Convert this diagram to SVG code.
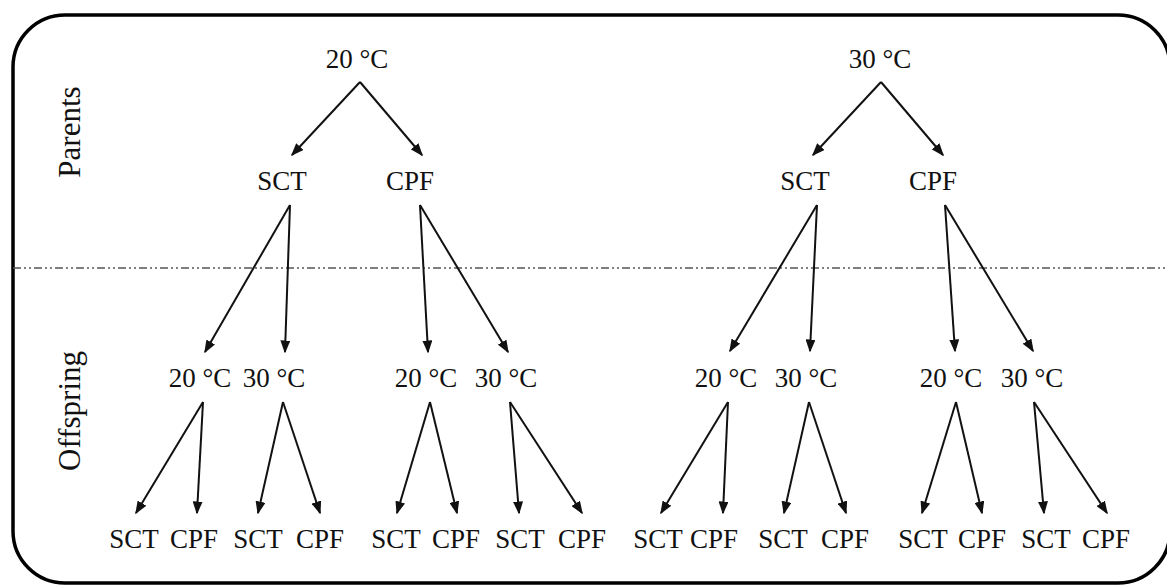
<svg xmlns="http://www.w3.org/2000/svg" width="1167" height="585" viewBox="0 0 1167 585">
<style>
text{fill:#111;text-anchor:middle}
.n{font-size:27px}
.side{font-size:31px}
.c line{stroke:#111;stroke-width:2;marker-end:url(#ah)}
</style>
<defs>
<marker id="ah" markerUnits="userSpaceOnUse" markerWidth="13" markerHeight="10" refX="11.5" refY="5" orient="auto">
<path d="M0,0 L13,5 L0,10 z" fill="#111"/>
</marker>
</defs>
<rect width="1167" height="585" fill="#fff"/>
<rect x="13" y="15" width="1157" height="568" rx="52" ry="52" fill="none" stroke="#000" stroke-width="3.5"/>
<line x1="13" y1="268" x2="1167" y2="268" stroke="#555" stroke-width="1.5" stroke-dasharray="8 3 2 3 2 3"/>
<g font-family="Liberation Serif, Times New Roman, DejaVu Serif, serif">
<text class="side" transform="translate(80,132) rotate(-90)">Parents</text>
<text class="side" transform="translate(80,411) rotate(-90)">Offspring</text>
<g id="p20"><text class="n" x="357" y="68">20 °C</text></g>
<g id="p30"><text class="n" x="880" y="68">30 °C</text></g>
<g id="p20sct"><text class="n" x="282" y="190">SCT</text></g>
<g id="p20cpf"><text class="n" x="410" y="190">CPF</text></g>
<g id="p30sct"><text class="n" x="805" y="190">SCT</text></g>
<g id="p30cpf"><text class="n" x="933" y="190">CPF</text></g>
<g id="o1"><text class="n" x="200" y="387">20 °C</text></g>
<g id="o2"><text class="n" x="274" y="387">30 °C</text></g>
<g id="o3"><text class="n" x="426" y="387">20 °C</text></g>
<g id="o4"><text class="n" x="506" y="387">30 °C</text></g>
<g id="o5"><text class="n" x="726" y="387">20 °C</text></g>
<g id="o6"><text class="n" x="806" y="387">30 °C</text></g>
<g id="o7"><text class="n" x="951" y="387">20 °C</text></g>
<g id="o8"><text class="n" x="1032" y="387">30 °C</text></g>
<g id="l1"><text class="n" x="134" y="548">SCT</text></g>
<g id="l2"><text class="n" x="194" y="548">CPF</text></g>
<g id="l3"><text class="n" x="258" y="548">SCT</text></g>
<g id="l4"><text class="n" x="320" y="548">CPF</text></g>
<g id="l5"><text class="n" x="396" y="548">SCT</text></g>
<g id="l6"><text class="n" x="456" y="548">CPF</text></g>
<g id="l7"><text class="n" x="520" y="548">SCT</text></g>
<g id="l8"><text class="n" x="582" y="548">CPF</text></g>
<g id="l9"><text class="n" x="658" y="548">SCT</text></g>
<g id="l10"><text class="n" x="714" y="548">CPF</text></g>
<g id="l11"><text class="n" x="783" y="548">SCT</text></g>
<g id="l12"><text class="n" x="845" y="548">CPF</text></g>
<g id="l13"><text class="n" x="923" y="548">SCT</text></g>
<g id="l14"><text class="n" x="982" y="548">CPF</text></g>
<g id="l15"><text class="n" x="1046" y="548">SCT</text></g>
<g id="l16"><text class="n" x="1106" y="548">CPF</text></g>
</g>
<g id="connectors" class="c">
<line x1="360" y1="82" x2="292" y2="155"/>
<line x1="360" y1="82" x2="422" y2="155"/>
<line x1="881" y1="82" x2="813" y2="155"/>
<line x1="881" y1="82" x2="943" y2="155"/>
<line x1="290" y1="205" x2="205" y2="352"/>
<line x1="290" y1="205" x2="285" y2="352"/>
<line x1="420" y1="205" x2="428" y2="352"/>
<line x1="420" y1="205" x2="508" y2="352"/>
<line x1="817" y1="205" x2="730" y2="351"/>
<line x1="817" y1="205" x2="810" y2="351"/>
<line x1="945" y1="205" x2="955" y2="351"/>
<line x1="945" y1="205" x2="1033" y2="351"/>
<line x1="203" y1="402" x2="136" y2="513"/>
<line x1="203" y1="402" x2="197" y2="513"/>
<line x1="283" y1="402" x2="258" y2="513"/>
<line x1="283" y1="402" x2="320" y2="513"/>
<line x1="430" y1="402" x2="397" y2="513"/>
<line x1="430" y1="402" x2="457" y2="513"/>
<line x1="510" y1="402" x2="519" y2="513"/>
<line x1="510" y1="402" x2="582" y2="513"/>
<line x1="728" y1="402" x2="661" y2="513"/>
<line x1="728" y1="402" x2="723" y2="513"/>
<line x1="809" y1="402" x2="784" y2="513"/>
<line x1="809" y1="402" x2="846" y2="513"/>
<line x1="956" y1="402" x2="922" y2="513"/>
<line x1="956" y1="402" x2="982" y2="513"/>
<line x1="1034" y1="402" x2="1044" y2="513"/>
<line x1="1034" y1="402" x2="1107" y2="513"/>
</g>
</svg>
